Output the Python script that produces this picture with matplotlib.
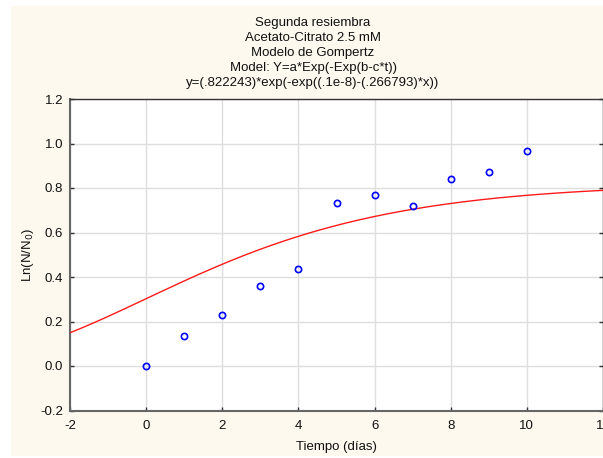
import numpy as np
import matplotlib
matplotlib.use('Agg')
import matplotlib.pyplot as plt
from matplotlib.patches import Rectangle

# datos observados (segunda resiembra)
dias = [0, 1, 2, 3, 4, 5, 6, 7, 8, 9, 10]
ln_n_n0 = [0.0, 0.133, 0.229, 0.361, 0.434, 0.731, 0.770, 0.717, 0.839, 0.870, 0.966]

# parametros del ajuste de Gompertz
a = 0.822243
b = 1e-8
c = 0.266793

titulo = ['Segunda resiembra',
          'Acetato-Citrato 2.5 mM',
          'Modelo de Gompertz',
          'Model: Y=a*Exp(-Exp(b-c*t))',
          'y=(.822243)*exp(-exp((.1e-8)-(.266793)*x))']

x_ticks = [-2, 0, 2, 4, 6, 8, 10, 12]
y_ticks = [-0.2, 0.0, 0.2, 0.4, 0.6, 0.8, 1.0, 1.2]

plt.rcParams['font.family'] = ['Liberation Sans', 'DejaVu Sans']

W, H = 603, 458
fig = plt.figure(figsize=(W/100, H/100), dpi=100)
fig.patch.set_facecolor('white')
fig.add_artist(Rectangle((11/W, 2/H), (W-11)/W, (H-8)/H, transform=fig.transFigure,
                         facecolor='#fef9ef', edgecolor='none', zorder=-10))

ax = fig.add_axes([70/W, 47.5/H, (W-70)/W, 311.5/H])
ax.set_facecolor('white')

xs = np.linspace(-2, 12, 300)
ys = a*np.exp(-np.exp(b - c*xs))
ax.plot(xs, ys, color='#ff1a1a', lw=1.0, zorder=3)
ax.plot(dias, ln_n_n0, 'o', mfc='none', mec='#0000ff', ms=4.5, mew=1.2, zorder=4)

ax.set_xlim(-2, 12)
ax.set_ylim(-0.2, 1.2)
ax.set_xticks(x_ticks)
ax.set_yticks(y_ticks)
ax.set_xticklabels([str(t) for t in x_ticks])
ax.set_yticklabels(['%.1f' % t for t in y_ticks])
ax.grid(True, color='#dedede', lw=1.0)
ax.set_axisbelow(True)
ax.tick_params(direction='in', length=3, width=1, color='#333333', labelsize=9.5,
               labelcolor='#111111', top=False, right=True)
ax.tick_params(axis='x', pad=7)
ax.tick_params(axis='y', pad=5)
for s in ['left', 'bottom']:
    ax.spines[s].set_color('#666666')
    ax.spines[s].set_linewidth(1.5)
for s in ['top', 'right']:
    ax.spines[s].set_color('#333333')
    ax.spines[s].set_linewidth(1.0)

fig.text(313/W, 1 - 17/H, '\n'.join(titulo), fontsize=9.5, linespacing=1.32,
         ha='center', va='top', color='#111111')
ax.set_xlabel('Tiempo (días)', fontsize=9.5, labelpad=6, color='#111111')
ax.set_ylabel('Ln(N/N$_0$)', fontsize=9.5, labelpad=3, color='#111111')

fig.savefig('out.png', dpi=100)
